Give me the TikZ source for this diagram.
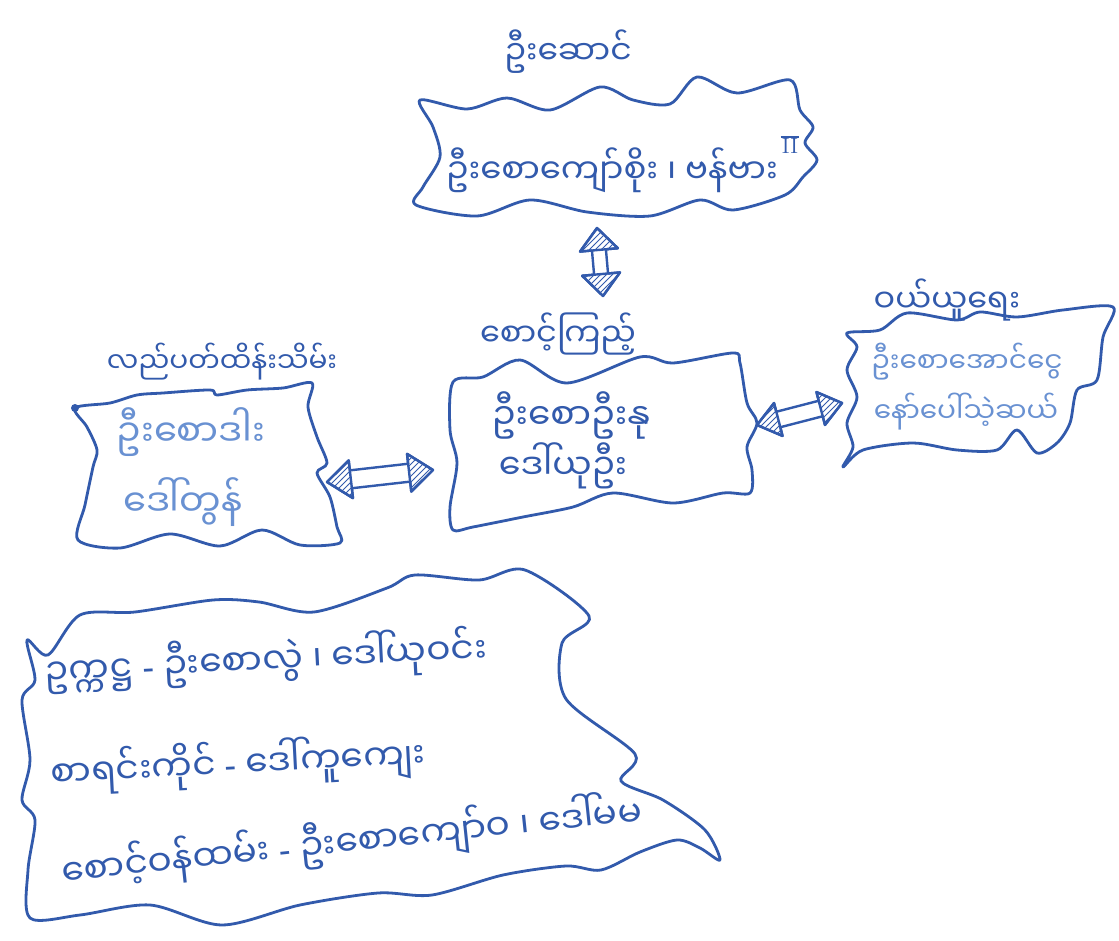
\documentclass[tikz,border=0pt]{standalone}
\usepackage{fontspec}
\newfontfamily\mya[Script=Myanmar]{Noto Sans Myanmar UI}
\newfontfamily\latf{Noto Sans}
\newcommand\dsh{{\latf -}}
\usetikzlibrary{calc,patterns}
\definecolor{ink}{RGB}{50,90,172}
\definecolor{inklight}{RGB}{105,145,210}
\tikzset{
  outline/.style={draw=ink, line width=1.4pt, line join=round, line cap=round},
  lbl/.style={text=ink, inner sep=0pt, font={\mya\fontsize{#1}{24}\selectfont}},
  lbl/.default=18,
  faint/.style={text=inklight, inner sep=0pt, font={\mya\fontsize{#1}{24}\selectfont}},
  faint/.default=18,
  arrowline/.style={draw=ink, line width=1.2pt, line join=round},
  hatch/.style={pattern=north east lines, pattern color=ink}
}
\newcommand\dblarrow[5]{%
  \coordinate (hA) at ($(#1)!#3!(#2)$);
  \coordinate (hB) at ($(#2)!#3!(#1)$);
  \draw[arrowline, fill=white] (#1) -- ($(hA)!#4!90:(#2)$) -- ($(hA)!#5!90:(#2)$)
    -- ($(hB)!#5!-90:(#1)$) -- ($(hB)!#4!-90:(#1)$) -- (#2)
    -- ($(hB)!#4!90:(#1)$) -- ($(hB)!#5!90:(#1)$)
    -- ($(hA)!#5!-90:(#2)$) -- ($(hA)!#4!-90:(#2)$) -- cycle;
  \fill[hatch] (#1) -- ($(hA)!#4!90:(#2)$) -- ($(hA)!#4!-90:(#2)$) -- cycle;
  \fill[hatch] (#2) -- ($(hB)!#4!90:(#1)$) -- ($(hB)!#4!-90:(#1)$) -- cycle;
  \draw[arrowline] (#1) -- ($(hA)!#4!90:(#2)$) -- ($(hA)!#4!-90:(#2)$) -- cycle;
  \draw[arrowline] (#2) -- ($(hB)!#4!90:(#1)$) -- ($(hB)!#4!-90:(#1)$) -- cycle;
}
\begin{document}
\begin{tikzpicture}[x=0.5pt,y=-0.5pt]
\useasboundingbox (0,0) rectangle (1119,941);
\fill[white] (0,0) rectangle (1119,941);

% ---------- top box ----------
\draw[outline] plot[smooth cycle, tension=0.5] coordinates {
 (420,100) (467,109) (507,98) (550,110) (600,87) (633,100) (670,104) (697,77)
 (737,93) (790,80) (800,110) (813,127) (805,143) (817,160) (803,177) (785,195)
 (733,210) (700,200) (650,216) (587,212) (530,200) (477,216) (416,205)
 (423,187) (440,157) (433,127)};
\node[lbl=16.5] (ttitle) at (568,52) {ဦးဆောင်};
\node[lbl=17] (ttext) at (612,170) {ဦးစောကျော်စိုး ၊ ဗန်ဗား};
\node[text=ink, font=\fontsize{11}{12}\selectfont, inner sep=0.5pt] (tnum) at (790,146) {II};
\draw[ink, line width=0.7pt] (tnum.north west) -- (tnum.north east);

% ---------- middle box ----------
\draw[outline] plot[smooth cycle, tension=0.5] coordinates {
 (453,382) (483,377) (520,360) (567,383) (640,357) (673,363) (733,353)
 (740,363) (747,403) (757,423) (747,447) (752,470) (750,493)
 (723,493) (673,503) (613,493) (573,507) (523,517) (473,527) (453,530)
 (450,507) (457,463) (450,430)};
\node[lbl=16] (mtitle) at (558,334) {စောင့်ကြည့်};
\node[lbl=18] (mline1) at (571,415) {ဦးစောဦးနု};
\node[lbl=17.5] (mline2) at (563,466) {ဒေါ်ယုဦး};

% ---------- left box ----------
\draw[outline] plot[smooth cycle, tension=0.5] coordinates {
 (75,408) (110,403) (137,395) (163,393) (210,390) (217,395) (247,390) (283,388) (312,383)
 (308,407) (317,437) (327,463) (317,473) (330,497) (337,527) (340,543)
 (300,545) (262,530) (220,546) (170,534) (120,548) (78,540)
 (85,505) (93,467) (97,450) (87,427)};
\fill[ink] (75,408) circle (4);
\node[lbl=14] (ltitle) at (222,362) {လည်ပတ်ထိန်းသိမ်း};
\node[faint=18.5] (lline1) at (191,432) {ဦးစောဒါး};
\node[faint=18.5] (lline2) at (183,502) {ဒေါ်တွန်};

% ---------- right box ----------
\draw[outline] plot[smooth cycle, tension=0.5] coordinates {
 (847,333) (880,330) (907,313) (957,320) (980,312) (1017,317) (1063,310) (1113,307)
 (1103,337) (1097,380) (1077,390) (1070,423) (1057,443)
 (1037,453) (1017,430) (997,450) (957,450) (913,443) (863,450) (843,467)
 (853,447) (847,423) (857,397) (847,370) (857,347)};
\node[lbl=16] (rtitle) at (947,300) {ဝယ်ယူရေး};
\node[faint=14] (rline1) at (967,362) {ဦးစောအောင်ငွေ};
\node[faint=14] (rline2) at (966,412) {နော်ပေါ်သဲ့ဆယ်};

% ---------- bottom box ----------
\draw[outline] plot[smooth cycle, tension=0.5] coordinates {
 (27,640) (48,655) (80,615) (135,612) (213,600) (259,602) (314,612) (387,588)
 (415,575) (479,580) (525,570) (589,616) (562,643) (566,699) (635,754) (621,781)
 (663,800) (705,830) (720,860) (700,848) (677,840) (640,852) (601,870) (566,866)
 (503,875) (432,895) (378,893) (300,905) (222,925) (150,905) (80,915) (30,918)
 (28,870) (35,820) (22,800) (30,760) (22,700) (35,680)};
\node[lbl=18, rotate=3] (bline1) at (266,660) {ဥက္ကဋ္ဌ \dsh{} ဦးစောလွဲ ၊ ဒေါ်ယုဝင်း};
\node[lbl=18, rotate=3] (bline2) at (238,764) {စာရင်းကိုင် \dsh{} ဒေါ်ကူကျေး};
\node[lbl=18, rotate=6] (bline3) at (352,842) {စောင့်ဝန်ထမ်း \dsh{} ဦးစောကျော်ဝ ၊ ဒေါ်မမ};

% ---------- arrows ----------
\coordinate (va1) at (597,228);
\coordinate (va2) at (603,296);
\coordinate (ha1) at (327,482);
\coordinate (ha2) at (433,470);
\coordinate (ra1) at (757,425);
\coordinate (ra2) at (842,403);
\dblarrow{va1}{va2}{11pt}{9.5pt}{3.5pt}
\dblarrow{ha1}{ha2}{12pt}{9.5pt}{4.5pt}
\dblarrow{ra1}{ra2}{11pt}{8.5pt}{4pt}
\end{tikzpicture}
\end{document}
